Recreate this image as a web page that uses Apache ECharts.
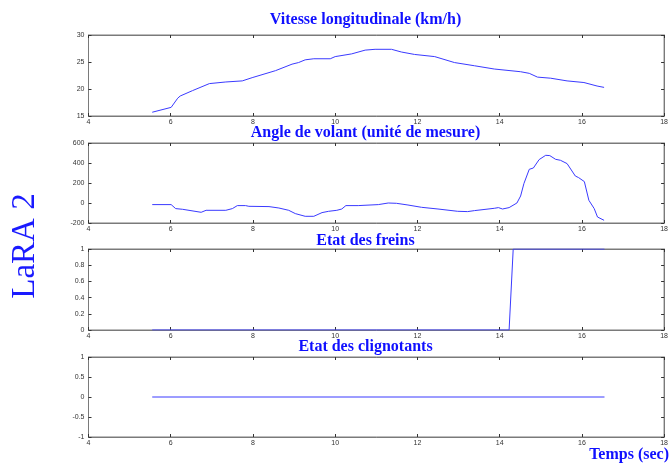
<!DOCTYPE html>
<html><head><meta charset="utf-8">
<script src="https://cdn.jsdelivr.net/npm/echarts@6/dist/echarts.min.js"></script>
<style>html,body{margin:0;padding:0;background:#fff}#c{width:671px;height:465px}</style>
</head><body><div id="c"></div>
<script>
var panelTitles = ['Vitesse longitudinale (km/h)', 'Angle de volant (unité de mesure)', 'Etat des freins', 'Etat des clignotants'];
var xTicks = {min: 4, max: 18, interval: 2};

var speedTime = [5.55, 6.01, 6.05, 6.17, 6.23, 6.53, 6.94, 7.34, 7.74, 7.98, 8.55, 8.95, 9.11, 9.27, 9.48, 9.88, 10.0, 10.4, 10.73, 10.97, 11.37, 11.61, 11.93, 12.42, 12.9, 13.39, 13.87, 14.51, 14.72, 14.92, 15.24, 15.64, 16.05, 16.37, 16.54];
var speedValues = [15.7, 16.6, 16.7, 18.3, 18.7, 19.7, 21.0, 21.3, 21.5, 22.1, 23.4, 24.6, 24.9, 25.4, 25.6, 25.6, 26.0, 26.5, 27.2, 27.35, 27.35, 26.85, 26.4, 26.0, 24.9, 24.3, 23.7, 23.2, 22.9, 22.2, 22.0, 21.5, 21.2, 20.55, 20.3];

var angleTime = [5.55, 6.01, 6.12, 6.29, 6.74, 6.86, 7.34, 7.5, 7.62, 7.82, 7.9, 8.39, 8.63, 8.87, 9.03, 9.27, 9.48, 9.68, 9.84, 10.04, 10.16, 10.26, 10.56, 11.05, 11.29, 11.49, 11.77, 12.1, 12.5, 12.98, 13.22, 13.39, 13.87, 13.97, 14.07, 14.23, 14.42, 14.51, 14.59, 14.72, 14.82, 14.96, 15.12, 15.22, 15.36, 15.48, 15.64, 15.84, 15.92, 16.06, 16.17, 16.3, 16.38, 16.54];
var angleValues = [-16, -16, -56, -63, -93, -73, -73, -56, -26, -26, -33, -36, -50, -73, -106, -133, -133, -96, -83, -73, -60, -26, -26, -16, 0, -3, -20, -43, -60, -83, -86, -76, -53, -46, -60, -46, 0, 70, 194, 337, 350, 434, 477, 474, 437, 427, 394, 270, 254, 214, 27, -56, -140, -173];

var brakeTime = [5.55, 14.23, 14.33, 16.55];
var brakeValues = [0, 0, 1, 1];

var blinkTime = [5.55, 16.55];
var blinkValues = [0, 0];

var yRanges = [
  {min: 15, max: 30, interval: 5},
  {min: -200, max: 600, interval: 200},
  {min: 0, max: 1, interval: 0.2},
  {min: -1, max: 1, interval: 0.5}
];

function zip(t, v) { return t.map(function (x, i) { return [x, v[i]]; }); }
var seriesData = [zip(speedTime, speedValues), zip(angleTime, angleValues), zip(brakeTime, brakeValues), zip(blinkTime, blinkValues)];

var gridPos = [{top: 35, height: 81}, {top: 143, height: 80}, {top: 249, height: 81}, {top: 357, height: 80}];
var titleY = [20, 133, 241, 347];

var grids = [], xAxes = [], yAxes = [], series = [], graphics = [];
var axisLine = {show: true, onZero: false, lineStyle: {color: '#7a7a7a', width: 1}};
var tick = {show: true, inside: true, length: 3, lineStyle: {color: '#333'}};
var lab = {fontSize: 7, color: '#333', fontFamily: 'Liberation Sans, Arial'};
var titleFont = 'bold 16px "Liberation Serif"';

for (var i = 0; i < 4; i++) {
  grids.push({left: 88.5, right: 4, top: gridPos[i].top, height: gridPos[i].height, show: true, borderColor: '#7a7a7a', borderWidth: 1, backgroundColor: '#fff'});
  xAxes.push({type: 'value', gridIndex: i, position: 'bottom', min: xTicks.min, max: xTicks.max, interval: xTicks.interval,
    axisLine: axisLine, axisTick: tick, splitLine: {show: false},
    axisLabel: Object.assign({margin: 3, showMinLabel: true, showMaxLabel: true}, lab)});
  xAxes.push({type: 'value', gridIndex: i, position: 'top', min: xTicks.min, max: xTicks.max, interval: xTicks.interval,
    axisLine: axisLine, axisTick: tick, splitLine: {show: false}, axisLabel: {show: false}});
  yAxes.push({type: 'value', gridIndex: i, position: 'left', min: yRanges[i].min, max: yRanges[i].max, interval: yRanges[i].interval,
    axisLine: axisLine, axisTick: tick, splitLine: {show: false},
    axisLabel: Object.assign({margin: 4, showMinLabel: true, showMaxLabel: true}, lab)});
  yAxes.push({type: 'value', gridIndex: i, position: 'right', min: yRanges[i].min, max: yRanges[i].max, interval: yRanges[i].interval,
    axisLine: axisLine, axisTick: tick, splitLine: {show: false}, axisLabel: {show: false}});
  series.push({type: 'line', xAxisIndex: 2 * i, yAxisIndex: 2 * i, data: seriesData[i], showSymbol: false, symbol: 'none',
    lineStyle: {color: '#3a3aff', width: 1}, animation: false});
  graphics.push({type: 'text', x: 365.5, y: titleY[i], z: 100,
    style: {text: panelTitles[i], font: titleFont, fill: '#1010ff', textAlign: 'center', textVerticalAlign: 'middle'}});
}

graphics.push({type: 'text', x: 25, y: 246, rotation: Math.PI / 2,
  style: {text: 'LaRA 2', font: '33px "Liberation Serif"', fill: '#1a1aff', textAlign: 'center', textVerticalAlign: 'middle'}});
graphics.push({type: 'text', x: 669, y: 455,
  style: {text: 'Temps (sec)', font: titleFont, fill: '#1010ff', textAlign: 'right', textVerticalAlign: 'middle'}});

var chart = echarts.init(document.getElementById('c'), null, {renderer: 'canvas'});
chart.setOption({
  animation: false,
  backgroundColor: '#fff',
  grid: grids,
  xAxis: xAxes,
  yAxis: yAxes,
  series: series,
  graphic: graphics
});
</script></body></html>
